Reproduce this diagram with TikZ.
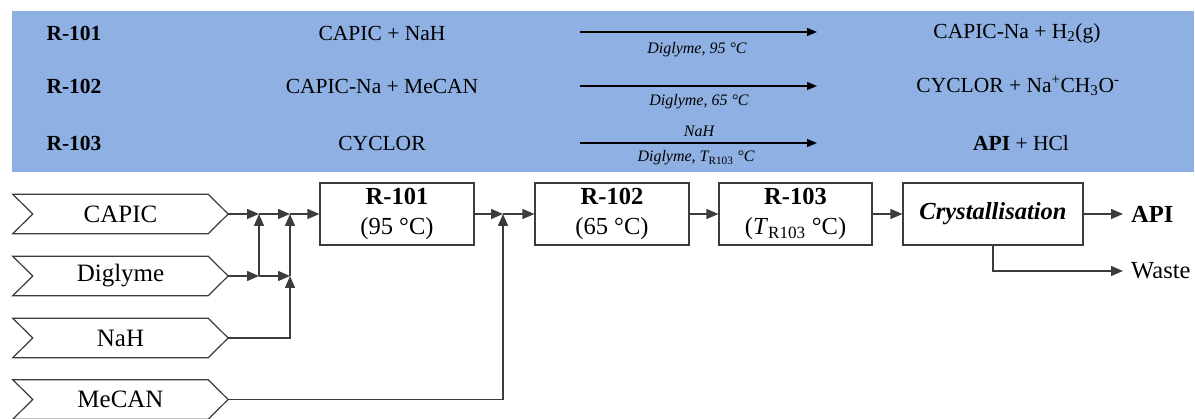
\documentclass[tikz,border=0pt]{standalone}
\usepackage{fontspec}
\setmainfont{LiberationSerif}[Extension=.ttf, UprightFont=*-Regular, BoldFont=*-Bold, ItalicFont=*-Italic, BoldItalicFont=*-BoldItalic]
\usetikzlibrary{arrows.meta}
\definecolor{bandblue}{RGB}{142,176,226}
\definecolor{linegray}{RGB}{60,60,60}
\newcommand\drawchev[1]{\draw[chevline] (#1.north west) -- ([xshift=-20pt]#1.north east) -- (#1.east) -- ([xshift=-20pt]#1.south east) -- (#1.south west) -- ([xshift=20pt]#1.west) -- cycle;}
\tikzset{
  toptext/.style={font=\fontsize{21.5}{26}\selectfont, inner sep=0pt},
  condtext/.style={font=\fontsize{16}{19}\selectfont\itshape, inner sep=0pt},
  rxnarrow/.style={draw=black, line width=1.2pt, -{Triangle[length=10pt,width=8pt]}},
  feed/.style={minimum width=215pt, minimum height=39pt, inner sep=0pt, font=\fontsize{25}{30}\selectfont},
  chevline/.style={draw=linegray, line width=1.2pt},
  unitbox/.style={draw=linegray, line width=1.2pt, minimum height=62pt, inner sep=0pt, align=center, font=\fontsize{24.5}{30}\selectfont},
  flow/.style={draw=linegray, line width=1.4pt, -{Triangle[length=12pt,width=10pt]}},
  outtext/.style={anchor=west, inner xsep=8pt, inner ysep=0pt, font=\fontsize{24.5}{30}\selectfont},
}
\begin{document}
\begin{tikzpicture}[x=1pt,y=-1pt]
\useasboundingbox (0,0) rectangle (1195,419);
\fill[bandblue] (12,11) rectangle (1194,172);
% reaction table
\node[toptext, font=\fontsize{21.5}{26}\selectfont\bfseries] (l1) at (74,33) {R-101};
\node[toptext, font=\fontsize{21.5}{26}\selectfont\bfseries] (l2) at (74,86) {R-102};
\node[toptext, font=\fontsize{21.5}{26}\selectfont\bfseries] (l3) at (74,143) {R-103};
\node[toptext] (a1) at (382,33) {CAPIC + NaH};
\node[toptext] (a2) at (382,86) {CAPIC-Na + MeCAN};
\node[toptext] (a3) at (382,143) {CYCLOR};
\coordinate (s1) at (580,32); \coordinate (e1) at (817,32);
\coordinate (s2) at (580,86); \coordinate (e2) at (817,86);
\coordinate (s3) at (580,143); \coordinate (e3) at (817,143);
\draw[rxnarrow] (s1) -- (e1);
\draw[rxnarrow] (s2) -- (e2);
\draw[rxnarrow] (s3) -- (e3);
\node[condtext] (c1) at (697,50) {Diglyme, 95 °C};
\node[condtext] (c2) at (699,102) {Diglyme, 65 °C};
\node[condtext] (c3a) at (699,131) {NaH};
\node[condtext] (c3b) at (696,158) {Diglyme, \textit{T}\textsubscript{\upshape R103} °C};
\node[toptext] (p1) at (1017,33) {CAPIC-Na + H\textsubscript{2}(g)};
\node[toptext] (p2) at (1018,86) {CYCLOR + Na\textsuperscript{+}CH\textsubscript{3}O\textsuperscript{-}};
\node[toptext] (p3) at (1021,143) {\textbf{API} + HCl};
% feeds
\node[feed] (capic) at (120.5,214) {CAPIC};
\node[feed] (dig) at (120.5,276) {Diglyme};
\node[feed] (nah) at (120.5,338) {NaH};
\node[feed] (mecan) at (120.5,399.5) {MeCAN};
\drawchev{capic}
\drawchev{dig}
\drawchev{nah}
\drawchev{mecan}
% units
\node[unitbox, minimum width=154pt] (r101) at (397,214) {\textbf{R-101}\\(95 °C)};
\node[unitbox, minimum width=154pt] (r102) at (612,214) {\textbf{R-102}\\(65 °C)};
\node[unitbox, minimum width=153pt] (r103) at (795.5,214) {\textbf{R-103}\\(\textit{T}\textsubscript{R103} °C)};
\node[unitbox, minimum width=180pt] (cryst) at (993,214) {\textbf{\textit{Crystallisation}}};
\node[outtext] (api) at (1123,214) {\textbf{API}};
\node[outtext] (waste) at (1123,271) {Waste};
% junctions
\coordinate (j1) at (259,214);
\coordinate (j2) at (290,214);
\coordinate (j3) at (259,276);
\coordinate (j4) at (290,276);
\coordinate (j5) at (503,214);
% connectors
\draw[flow] (capic.east) -- (j1);
\draw[flow] (j1) -- (j2);
\draw[flow] (j2) -- (r101.west);
\draw[flow] (dig.east) -- (j3);
\draw[flow] (j3) -- (j4);
\draw[flow] (j3) -- (j1);
\draw[flow] (nah.east) -| (j4);
\draw[flow] (j4) -- (j2);
\draw[flow] (r101.east) -- (j5);
\draw[flow] (mecan.east) -| (j5);
\draw[flow] (j5) -- (r102.west);
\draw[flow] (r102) -- (r103);
\draw[flow] (r103) -- (cryst);
\draw[flow] (cryst.east) -- (api.west);
\draw[flow] (cryst.south) |- (waste.west);
\end{tikzpicture}
\end{document}
